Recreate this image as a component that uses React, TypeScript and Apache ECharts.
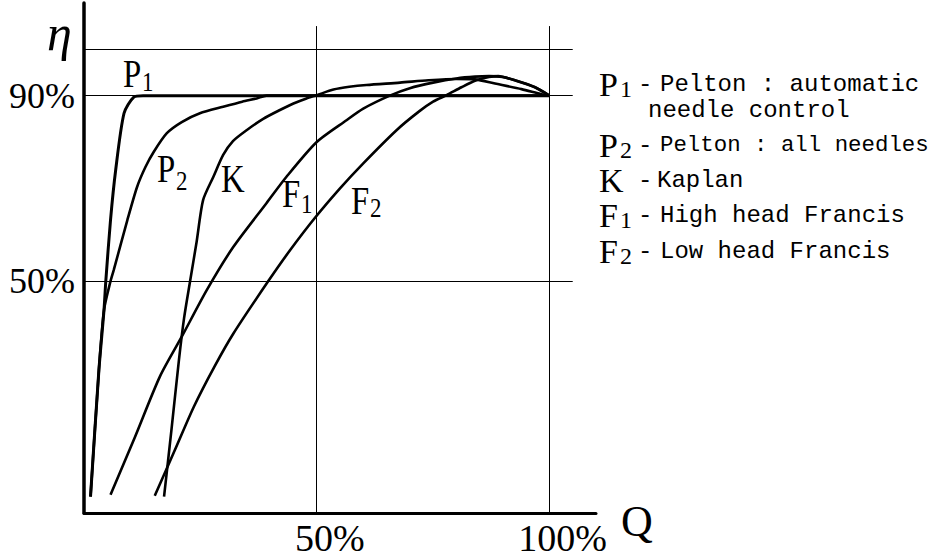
import React, { useEffect, useRef } from 'react';
import * as echarts from 'echarts';

// ---- data (Q % of rated flow, efficiency %) ----
const seriesNames = ['P1', 'P2', 'K', 'F1', 'F2'];

const peltonAuto: [number, number][] = [
  [1.4, 3.5], [3.2, 30.8], [4.3, 43.8], [4.7, 50.2], [5.7, 63.2], [6.8, 73.9],
  [8.6, 86.2], [10.7, 89.7], [12.7, 90], [100, 90],
];
const peltonAll: [number, number][] = [
  [1.4, 3.5], [3.2, 30.8], [4.3, 43.8], [5.7, 50], [6.4, 52.4], [9.3, 63.1],
  [11.4, 70.3], [13.2, 74.6], [15, 77.9], [17.8, 81.9], [21, 84.3], [24.9, 86.2],
  [29.9, 87.6], [34, 88.7], [37.1, 89.4], [39.2, 90], [100, 90],
];
const kaplan: [number, number][] = [
  [17.2, 3.5], [18.8, 18], [20.4, 33], [21.5, 42], [22.8, 50], [24.2, 58.5],
  [25.6, 67.5], [27.8, 72.5], [29.9, 77.2], [32, 80.2], [35, 82.6], [38.5, 85],
  [42.1, 86.9], [45, 88.3], [47.8, 89.4], [50, 90.1], [53.6, 91.3], [57, 91.9],
  [60.7, 92.3], [67.9, 92.8], [74, 93.3], [80, 93.6], [84, 93.5], [88.3, 92.6],
  [94, 91.4], [98.3, 90.3], [100, 90],
];
const francisHigh: [number, number][] = [
  [5.7, 3.9], [11, 16.5], [16.3, 29.4], [21, 38], [26.4, 48.1], [32.1, 57.4],
  [39.2, 66.8], [43.5, 72.5], [50, 80], [56.4, 84.7], [60, 87.2], [65.7, 90],
  [70, 91.6], [75, 92.8], [80, 93.7], [84, 94.1], [87, 94.2], [90, 94],
  [92.6, 93.3], [96.9, 91.8], [100, 90],
];
const francisLow: [number, number][] = [
  [15.2, 3.7], [19.5, 13.5], [23.6, 22.9], [28, 31.5], [32.1, 38.7], [39.6, 50],
  [44.3, 56.7], [49.5, 63.5], [55, 70], [60, 75.4], [67.2, 82.6], [72, 86.6],
  [75, 88.7], [77.9, 90.1], [81.1, 91.8], [84, 93.2], [87, 94], [89, 94.2],
  [92.6, 93.3], [96.9, 91.8], [100, 90],
];
const curves = [peltonAuto, peltonAll, kaplan, francisHigh, francisLow];

const xTickLabels = [50, 100];
const yTickLabels = [50, 90];
const hGridValues = [50, 90, 100];
const vGridValues = [50, 100];

const legendSymbols = ['P', 'P', 'K', 'F', 'F'];
const legendSubs = ['1', '2', '', '1', '2'];
const legendTexts = [
  ['Pelton : automatic', 'needle control'],
  ['Pelton : all needles'],
  ['Kaplan'],
  ['High head Francis'],
  ['Low head Francis'],
];

// ---- layout / style ----
const W = 935;
const H = 558;
const serif = '"Liberation Serif", "Times New Roman", serif';
const mono = '"Liberation Mono", Cousine, "Nimbus Mono PS", "Courier New", "DejaVu Sans Mono", monospace';
const AX_MAX = 110;
const GRID_END = 105;

// in-chart curve labels (pixel anchors: left x, middle y)
const curveLabelPos = [
  { x: 123, y: 73, sx: 142, sy: 82 },
  { x: 157, y: 168, sx: 176, sy: 181 },
  { x: 221, y: 178, sx: 0, sy: 0 },
  { x: 282, y: 193, sx: 301, sy: 204 },
  { x: 351, y: 200, sx: 370, sy: 208 },
];
// legend rows (middle y of capitals)
const legendRowY = [84, 145, 180, 215, 251.5];
const legendSubDy = [5, 5, 0, 5, 4];
const legendTextX = [[660, 648], [660], [657], [660], [660]];
const legendTextSize = [[24, 24], [22.4], [24], [24], [24]];

function txt(text: string, x: number, y: number, size: number, family: string, extra: any = {}, scaleX = 1) {
  return {
    type: 'text',
    x,
    y,
    scaleX,
    silent: true,
    style: {
      text,
      fill: '#000',
      fontSize: size,
      fontFamily: family,
      align: 'left',
      verticalAlign: 'middle',
      ...extra,
    },
  };
}

export default function App() {
  const ref = useRef<HTMLDivElement>(null);

  useEffect(() => {
    if (!ref.current) return;
    const chart = echarts.init(ref.current, undefined, { renderer: 'svg', width: W, height: H });

    const gridLines = [
      ...hGridValues.map((v) => [{ coord: [0, v] }, { coord: [GRID_END, v] }]),
      ...vGridValues.map((v) => [{ coord: [v, 0] }, { coord: [v, GRID_END] }]),
    ];

    const series: any[] = curves.map((data, i) => ({
      name: seriesNames[i],
      type: 'line',
      data,
      smooth: 0.25,
      showSymbol: false,
      symbol: 'none',
      silent: true,
      lineStyle: { color: '#000', width: i === 0 ? 3 : 2.6 },
      z: 3,
      ...(i === 0
        ? {
            markLine: {
              silent: true,
              symbol: ['none', 'none'],
              label: { show: false },
              lineStyle: { color: '#000', width: 1, type: 'solid' },
              emphasis: { disabled: true },
              data: gridLines,
            },
          }
        : {}),
    }));

    const graphics: any[] = [];
    // axis symbols
    graphics.push(txt('η', 47, 33, 50, serif, { fontStyle: 'italic' }));
    graphics.push(txt('Q', 621, 521, 44, serif));
    // curve labels
    curveLabelPos.forEach((p, i) => {
      graphics.push(txt(legendSymbols[i], p.x, p.y, 40, serif, {}, 0.82));
      if (legendSubs[i]) graphics.push(txt(legendSubs[i], p.sx, p.sy, 27, serif, {}, 0.85));
    });
    // legend
    legendRowY.forEach((y, i) => {
      graphics.push(txt(legendSymbols[i], 599, y, 34, serif));
      if (legendSubs[i]) graphics.push(txt(legendSubs[i], 620, y + legendSubDy[i], 24, serif));
      graphics.push(txt('-', 638, y, 24, mono));
      legendTexts[i].forEach((line, j) => {
        graphics.push(txt(line, legendTextX[i][j], y + j * 26, legendTextSize[i][j], mono));
      });
    });

    chart.setOption({
      animation: false,
      backgroundColor: '#fff',
      grid: { left: 84, right: W - 84 - 512, top: 2.9, bottom: H - 512.9, containLabel: false },
      xAxis: {
        type: 'value',
        min: 0,
        max: AX_MAX,
        interval: 10,
        axisLine: { show: true, lineStyle: { color: '#000', width: 3 } },
        axisTick: { show: false },
        splitLine: { show: false },
        axisLabel: {
          formatter: (v: number) => (xTickLabels.includes(v) ? `${v}%` : ''),
          color: '#000',
          fontFamily: serif,
          fontSize: 38,
          margin: 6,
          padding: [0, 0, 0, 26],
        },
      },
      yAxis: {
        type: 'value',
        min: 0,
        max: AX_MAX,
        interval: 10,
        axisLine: { show: true, lineStyle: { color: '#000', width: 3.5 } },
        axisTick: { show: false },
        splitLine: { show: false },
        axisLabel: {
          formatter: (v: number) => (yTickLabels.includes(v) ? `${v}%` : ''),
          color: '#000',
          fontFamily: serif,
          fontSize: 36,
          margin: 9,
          padding: [20, 0, 0, 0],
        },
      },
      series,
      graphic: graphics,
    });

    return () => chart.dispose();
  }, []);

  return (
    <div
      ref={ref}
      style={{ position: 'absolute', left: 0, top: 0, width: W, height: H, background: '#fff' }}
    />
  );
}
